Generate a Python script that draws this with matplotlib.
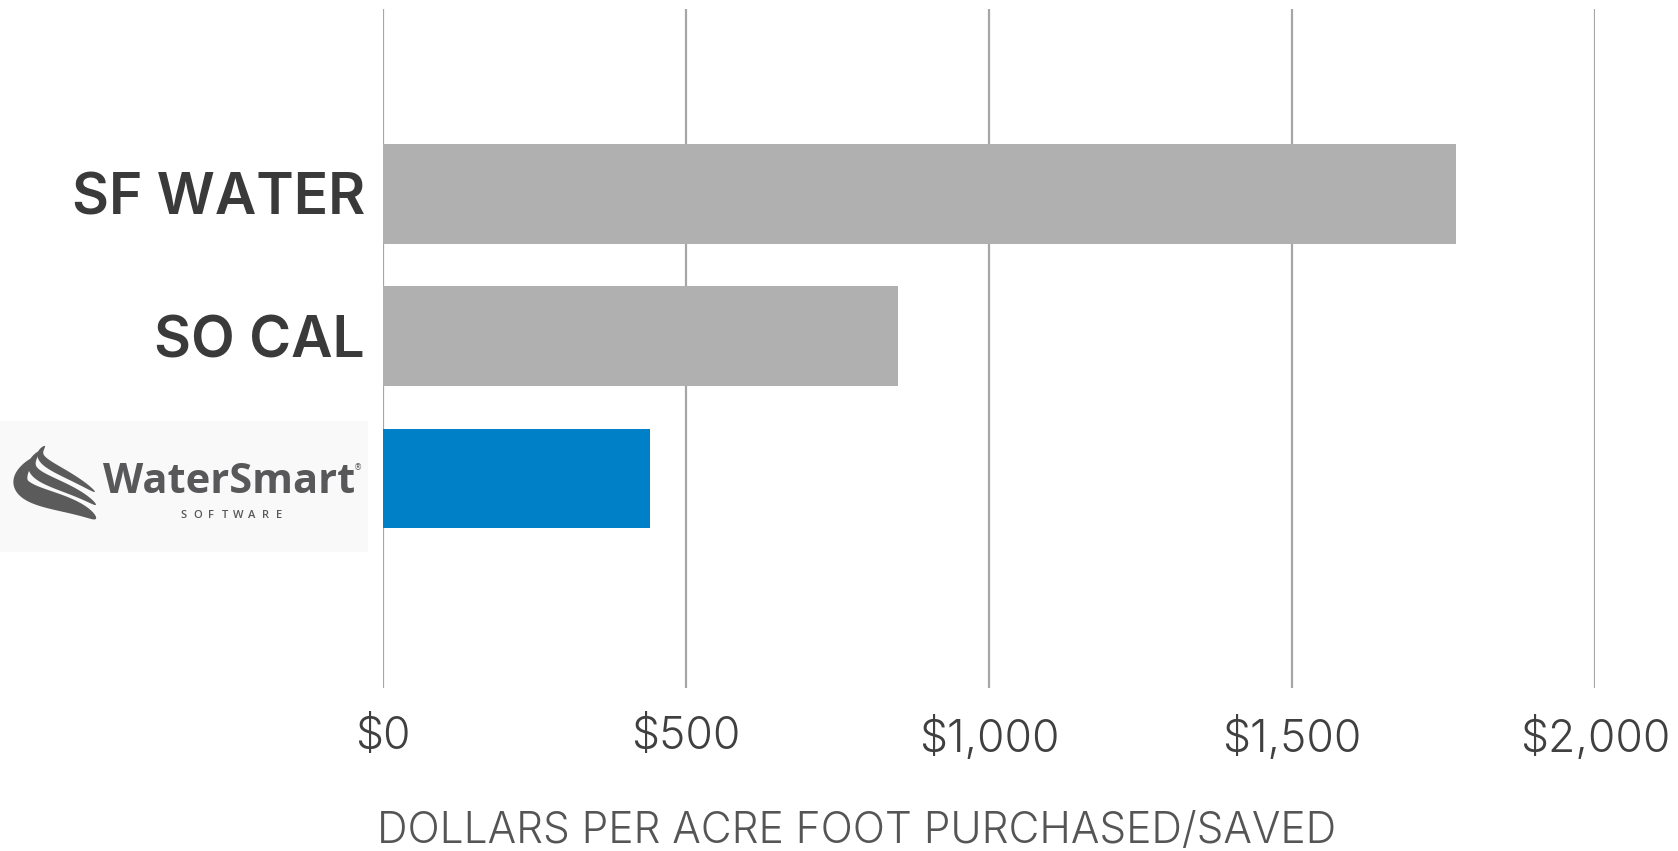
import numpy as np
import matplotlib.pyplot as plt

# data
categories = ['SF WATER', 'SO CAL', 'WaterSmart']
values = [1770, 850, 440]
bar_colors = ['#b0b0b0', '#b0b0b0', '#0080c6']
tick_vals = [0, 500, 1000, 1500, 2000]
tick_labels = ['$0', '$500', '$1,000', '$1,500', '$2,000']
xlabel = 'DOLLARS PER ACRE FOOT PURCHASED/SAVED'

W, H = 1678, 851
fig = plt.figure(figsize=(W / 100, H / 100), dpi=100)

# main axes (pixel box 383..1595 x 9..688)
ax = fig.add_axes([383 / W, 1 - 688 / H, (1595 - 383) / W, (688 - 9) / H])
y = np.arange(len(categories))
ax.barh(y, values, height=0.70, color=bar_colors, zorder=2)
ax.set_xlim(0, 2000)
ax.set_ylim(3.473, -1.30)
ax.set_xticks(tick_vals)
ax.set_xticklabels(tick_labels, fontsize=32, color='#404040',
                   family='Inter', fontweight=300)
ax.set_yticks(y[:2])
ax.set_yticklabels(categories[:2], fontsize=41, color='#3a3a3a',
                   family='Inter', fontweight=600)
ax.tick_params(axis='x', length=0, pad=20)
ax.tick_params(axis='y', length=0, pad=13)
ax.grid(axis='x', color='#a6a6a6', linewidth=1.6)
ax.set_axisbelow(True)
for s in ax.spines.values():
    s.set_visible(False)

fig.text(857 / W, 1 - 831 / H, xlabel, fontsize=30.5, color='#555555',
         family='Inter', fontweight=300, ha='center', va='center')

# logo in pixel coordinates
lg = fig.add_axes([0, 0, 1, 1], zorder=-1)
lg.set_xlim(0, W)
lg.set_ylim(H, 0)
lg.axis('off')
lg.add_patch(plt.Rectangle((0, 421), 368, 131, color='#f9f9f9', lw=0))


def swoosh(p0, p1, p2, p3, wmax, color='#5b5b5b'):
    t = np.linspace(0, 1, 120)
    P = np.array([p0, p1, p2, p3], float)
    B = (((1 - t) ** 3)[:, None] * P[0] + (3 * (1 - t) ** 2 * t)[:, None] * P[1]
         + (3 * (1 - t) * t ** 2)[:, None] * P[2] + (t ** 3)[:, None] * P[3])
    dB = (3 * ((1 - t) ** 2)[:, None] * (P[1] - P[0])
          + 6 * ((1 - t) * t)[:, None] * (P[2] - P[1])
          + 3 * (t ** 2)[:, None] * (P[3] - P[2]))
    n = np.stack([-dB[:, 1], dB[:, 0]], axis=1)
    n /= np.linalg.norm(n, axis=1)[:, None]
    w = wmax / 2 * np.sin(np.pi * t) ** 0.5
    up = B + n * w[:, None]
    lo = B - n * w[:, None]
    poly = np.vstack([up, lo[::-1]])
    lg.fill(poly[:, 0], poly[:, 1], color=color, lw=0)


swoosh((45, 446), (28, 462), (62, 468), (95, 492), 8)
swoosh((40, 451), (12, 479), (64, 480), (96, 505), 10)
swoosh((34, 458), (-10, 502), (66, 494), (96, 519), 18)

fig.text(103 / W, 1 - 493 / H, 'WaterSmart', fontsize=30, color='#58585a',
         family='Open Sans', fontweight='bold', ha='left', va='baseline')
fig.text(358 / W, 1 - 468 / H, '®', fontsize=6, color='#58585a',
         family='DejaVu Sans', ha='center', va='center')
for ch, xc in zip('SOFTWARE', np.linspace(184, 279, 8)):
    fig.text(xc / W, 1 - 518 / H, ch, fontsize=8, color='#58585a',
             family='Open Sans', fontweight='semibold', ha='center', va='baseline')

fig.savefig('out.png', dpi=100, facecolor='white')
